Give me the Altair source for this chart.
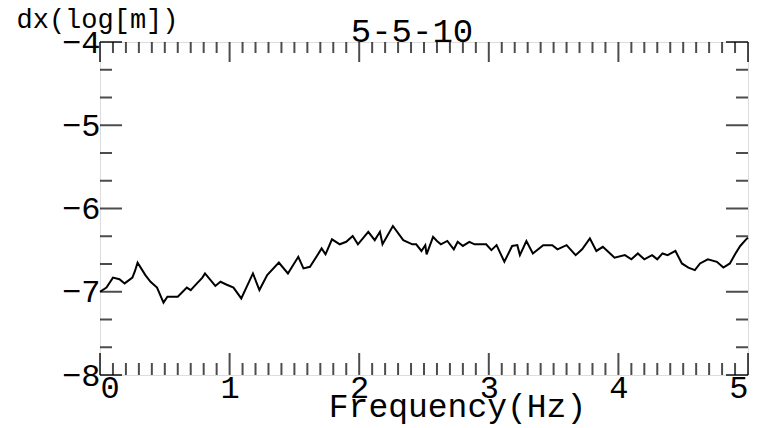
import altair as alt
import pandas as pd

freq = [0.00, 0.05, 0.10, 0.15, 0.19, 0.25, 0.27, 0.29, 0.35, 0.39, 0.44, 0.49, 0.52, 0.60,
        0.67, 0.70, 0.73, 0.79, 0.81, 0.89, 0.93, 0.97, 1.03, 1.09, 1.18, 1.23, 1.29, 1.38,
        1.45, 1.53, 1.57, 1.62, 1.67, 1.71, 1.74, 1.79, 1.85, 1.90, 1.95, 1.99, 2.07, 2.12,
        2.16, 2.18, 2.26, 2.34, 2.41, 2.44, 2.48, 2.51, 2.52, 2.57, 2.60, 2.63, 2.68, 2.73,
        2.76, 2.80, 2.85, 2.89, 2.98, 3.02, 3.06, 3.12, 3.18, 3.22, 3.24, 3.29, 3.34, 3.42,
        3.49, 3.53, 3.60, 3.67, 3.72, 3.78, 3.83, 3.88, 3.97, 4.05, 4.10, 4.15, 4.20, 4.26,
        4.30, 4.34, 4.38, 4.44, 4.49, 4.54, 4.59, 4.63, 4.69, 4.76, 4.81, 4.86, 4.90, 4.94,
        4.98, 5.00]
dx = [-7.00, -6.95, -6.83, -6.85, -6.90, -6.83, -6.75, -6.65, -6.80, -6.88, -6.95, -7.13, -7.06, -7.06,
      -6.95, -6.98, -6.93, -6.83, -6.78, -6.93, -6.88, -6.91, -6.95, -7.08, -6.78, -6.98, -6.80, -6.65,
      -6.78, -6.58, -6.72, -6.70, -6.58, -6.48, -6.55, -6.37, -6.43, -6.40, -6.33, -6.43, -6.28, -6.38,
      -6.28, -6.43, -6.21, -6.38, -6.43, -6.43, -6.51, -6.44, -6.55, -6.34, -6.39, -6.43, -6.39, -6.49,
      -6.40, -6.45, -6.40, -6.43, -6.43, -6.50, -6.44, -6.64, -6.45, -6.44, -6.56, -6.39, -6.54, -6.44,
      -6.44, -6.49, -6.44, -6.56, -6.49, -6.36, -6.51, -6.46, -6.59, -6.56, -6.61, -6.54, -6.61, -6.56,
      -6.61, -6.54, -6.56, -6.51, -6.66, -6.71, -6.74, -6.66, -6.61, -6.64, -6.71, -6.66, -6.55, -6.45,
      -6.38, -6.35]

x_major = [0, 1, 2, 3, 4, 5]
x_minor = [i / 10 for i in range(51) if i % 10]
y_major = [-8, -7, -6, -5, -4]
y_minor = [-8 + k / 3 for k in range(13) if k % 3]

FONT = "Liberation Mono"

xs = alt.Scale(domain=[0, 5], nice=False, zero=False)
ys = alt.Scale(domain=[-8, -4], nice=False, zero=False)

line_df = pd.DataFrame({"f": freq, "v": dx})

line = alt.Chart(line_df).mark_line(color="black", strokeWidth=2).encode(
    x=alt.X("f:Q", scale=xs, axis=alt.Axis(
        values=x_major, format="d", ticks=False, domain=False, grid=False,
        labelFont=FONT, labelFontSize=32, labelPadding=-3, labelColor="black",
        labelOverlap=False,
        title="Frequency(Hz)", titleFont=FONT, titleFontSize=33, titleFontWeight="normal",
        titleColor="black", titlePadding=-13, titleX=357)),
    y=alt.Y("v:Q", scale=ys, axis=alt.Axis(
        values=y_major, format="d", ticks=False, domain=False, grid=False,
        labelFont=FONT, labelFontSize=32, labelPadding=0, labelColor="black",
        title="dx(log[m])", titleFont=FONT, titleFontSize=27, titleFontWeight="normal",
        titleColor="black", titleAngle=0, titleAlign="left", titleBaseline="top",
        titleX=-84, titleY=-36)),
)

def xticks(vals, size, bottom=True):
    df = pd.DataFrame({"t": vals})
    return alt.Chart(df).mark_tick(
        color="black", thickness=2, size=size, orient="vertical",
        yOffset=(-size / 2 if bottom else size / 2)).encode(
        x=alt.X("t:Q", scale=xs), y=alt.datum(-8 if bottom else -4, scale=ys))

def yticks(vals, size, left=True):
    df = pd.DataFrame({"t": vals})
    return alt.Chart(df).mark_tick(
        color="black", thickness=2, size=size, orient="horizontal",
        xOffset=(size / 2 if left else -size / 2)).encode(
        y=alt.Y("t:Q", scale=ys), x=alt.datum(0 if left else 5, scale=xs))

chart = alt.layer(
    line,
    xticks(x_minor, 12, True), xticks(x_major, 22, True),
    xticks(x_minor, 11, False), xticks(x_major, 20, False),
    yticks(y_minor, 12, True), yticks(y_major, 22, True),
    yticks(y_minor, 12, False), yticks(y_major, 22, False),
).properties(
    width=648, height=333,
    title=alt.TitleParams("5-5-10", font=FONT, fontSize=34, fontWeight="normal",
                          color="black", offset=0, dx=-12, dy=44),
    autosize=alt.AutoSizeParams(type="none"),
    padding={"left": 92, "top": 34, "right": 20, "bottom": 52},
).configure_view(stroke="black", strokeWidth=2).configure(background="white")

chart.save("out.html", embed_options={"renderer": "svg", "actions": False})
